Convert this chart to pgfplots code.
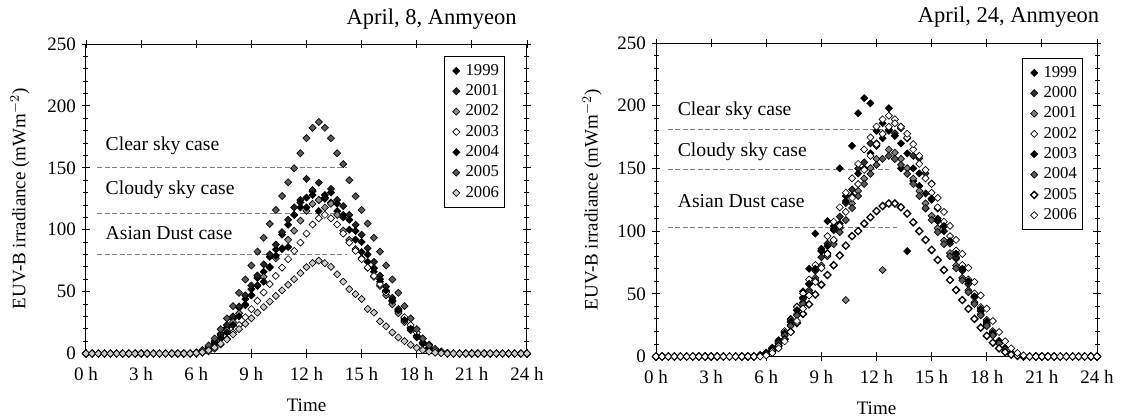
\documentclass[border=0pt]{standalone}
\usepackage{pgfplots}
\pgfplotsset{compat=1.18}
\usepackage{pgfplotstable}
\usepackage{fontspec}
\setmainfont{Liberation Serif}

% April 8: t, 1999, 2001, 2002, 2003, 2004, 2005, 2006
\pgfplotstableread{
t a b c d e f g
0.00 0 0 0 0 0 0 0
0.33 0 0 0 0 0 0 0
0.67 0 0 0 0 0 0 0
1.00 0 0 0 0 0 0 0
1.33 0 0 0 0 0 0 0
1.67 0 0 0 0 0 0 0
2.00 0 0 0 0 0 0 0
2.33 0 0 0 0 0 0 0
2.67 0 0 0 0 0 0 0
3.00 0 0 0 0 0 0 0
3.33 0 0 0 0 0 0 0
3.67 0 0 0 0 0 0 0
4.00 0 0 0 0 0 0 0
4.33 0 0 0 0 0 0 0
4.67 0 0 0 0 0 0 0
5.00 0 0 0 0 0 0 0
5.33 0 0 0 0 0 0 0
5.67 0 0 0 0 0 0 0
6.00 0.6 0.7 0.6 0 0.6 0.9 0.4
6.33 2 2.2 1.9 0.6 1.8 2.8 1.1
6.67 5 5.5 4.3 1.7 4 6.5 2.6
7.00 9 10 8.1 3.9 7.5 12.2 4.9
7.33 15 16 13 7.3 12 19.6 7.9
7.67 21 23 18.8 11.8 17 28.4 11.4
8.00 28 30 25.4 17 23 38.3 15.4
8.33 37 38 32.5 23 30 49 19.7
8.67 44 47 39.7 29.3 39 59.8 24
9.00 52 55 47.1 35.8 47 71.1 28.5
9.33 61 63 54.6 42.6 55 82.3 33
9.67 66 72 62 49.3 58 93.5 37.5
10.00 78 80 69.4 56 70 104.7 42
10.33 84 88 76.9 62.7 79 115.9 46.5
10.67 96 98 84.3 69.4 85 127.2 51
11.00 104 108 91.8 76.2 86 138.4 55.5
11.33 112 118 99.2 82.9 112 149.6 60
11.67 118 124 107.3 89.6 122 161.8 64.9
12.00 126 141 115.3 96.9 118 173.9 69.8
12.33 131 132 120.9 104.2 128 182.3 73.1
12.67 124 138 124 109.2 115 187 75
13.00 128 126 118 112 125 182.3 73
13.33 122 133 121 109.2 130 173.9 70
13.67 115 124 112 104.2 121 161.8 64
14.00 110 119 99.2 96.9 112 153 58
14.33 100 112 91.8 89.6 108 140 52
14.67 92 104 84.3 82.9 99 127 48
15.00 82 96 76.9 76.2 90 116 44
15.33 74 85 69.4 69.4 80 105 36
15.67 66 74 62 62.7 69 93.5 33
16.00 58 63 54.6 56 60 82.3 26
16.33 50 54 47.1 49.3 51 71.1 22
16.67 42 45 39.7 42.6 43 59.8 17
17.00 34 36 32.5 35.8 35 49 13
17.33 27 28 25.4 29.3 27 38.3 10
17.67 20 21 18.8 23 20 28.4 7
18.00 14 14.5 13 17 13.5 19.6 4.5
18.33 8.5 9 8.1 11.8 8 12.2 2.8
18.67 4.5 5 4.3 7.3 4.3 6.5 1.5
19.00 2 2.2 1.9 3.9 1.8 2.8 0.7
19.33 0.6 0.7 0.6 1.7 0.6 0.9 0.3
19.67 0 0 0 0.6 0 0 0
20.00 0 0 0 0 0 0 0
20.33 0 0 0 0 0 0 0
20.67 0 0 0 0 0 0 0
21.00 0 0 0 0 0 0 0
21.33 0 0 0 0 0 0 0
21.67 0 0 0 0 0 0 0
22.00 0 0 0 0 0 0 0
22.33 0 0 0 0 0 0 0
22.67 0 0 0 0 0 0 0
23.00 0 0 0 0 0 0 0
23.33 0 0 0 0 0 0 0
23.67 0 0 0 0 0 0 0
24.00 0 0 0 0 0 0 0
}\leftdata

% April 24: t, 1999, 2000, 2001, 2002, 2003, 2004, 2005, 2006
\pgfplotstableread{
t a b c d e f g h
0.00 0 0 0 0 0 0 0 0
0.33 0 0 0 0 0 0 0 0
0.67 0 0 0 0 0 0 0 0
1.00 0 0 0 0 0 0 0 0
1.33 0 0 0 0 0 0 0 0
1.67 0 0 0 0 0 0 0 0
2.00 0 0 0 0 0 0 0 0
2.33 0 0 0 0 0 0 0 0
2.67 0 0 0 0 0 0 0 0
3.00 0 0 0 0 0 0 0 0
3.33 0 0 0 0 0 0 0 0
3.67 0 0 0 0 0 0 0 0
4.00 0 0 0 0 0 0 0 0
4.33 0 0 0 0 0 0 0 0
4.67 0 0 0 0 0 0 0 0
5.00 0 0 0 0 0 0 0 0
5.33 0 0 0 0 0 0 0 0
5.67 1 0.9 0.8 1 0.9 0.8 0.6 0
6.00 3 2.7 2.5 2.9 2.7 2.4 2 0.9
6.33 7 6.3 5.8 6.7 6.5 5.6 4.6 2.8
6.67 13 11.7 10.7 12.5 12 10.4 8.5 6.5
7.00 20 18.9 17.3 20.2 19 16.8 13.7 12.1
7.33 30 27.4 25.1 29.2 28 24.3 19.8 19.5
7.67 40 36.9 33.8 39.4 37 32.8 26.7 28.3
8.00 52 47.2 43.2 50.3 46 41.9 34 38.1
8.33 70 57.6 52.8 61.4 58 51.2 41.6 48.7
8.67 98 68.4 62.7 73 70 60.8 49.4 59.5
9.00 86 79.2 72.6 84.5 84 70.4 57.2 70.7
9.33 108 90 82.5 96 88 80 65 81.8
9.67 104 100.8 92.4 107.5 102 89.6 72.8 93
10.00 150 111.6 102.3 119 106 99.2 80.6 104.2
10.33 128 122.4 45 130.6 124 108.8 88.4 115.3
10.67 168 133.2 122.1 142.1 128 118.4 96 126.5
11.00 194 150 132 153.6 146 128 100 137.6
11.33 206 154.8 141.9 165.1 150 137.6 106 148.8
11.67 202 170 150.2 174.7 162 145.6 111 160
12.00 180 168 157.6 183.4 170 152.8 116 169.3
12.33 186 177.3 69 189.1 174 157.6 120 177.6
12.67 198 181 165 192 180 160 122 183.2
13.00 176 178 162.5 189.1 176 157.6 122 186
13.33 150 182 157.6 183.4 170 152.8 119 183.2
13.67 84 174 150.2 174.7 162 145.6 114 177.6
14.00 140 160 141.9 165.1 150 137.6 107 169.3
14.33 136 158 132 153.6 146 128 100 160
14.67 118 146 122.1 142.1 130 118.4 93 148.8
15.00 125 138 112.2 130.6 126 108.8 85 137.6
15.33 110 118 102.3 119 108 99.2 77 126.5
15.67 100 104 92.4 107.5 104 89.6 69 115.3
16.00 92 90 82.5 96 92 80 61 104.2
16.33 78 79.2 72.6 84.5 82 70.4 53 93
16.67 70 68.4 62.7 73 70 60.8 45 81.8
17.00 58 57.6 52.8 61.4 60 51.2 38 70.7
17.33 48 47.2 43.2 50.3 48 41.9 30 59.5
17.67 36 36.9 33.8 39.4 38 32.8 23 48.7
18.00 26 27.4 25.1 29.2 28 24.3 16.5 38.1
18.33 18 18.9 17.3 20.2 19 16.8 11 28.3
18.67 11 11.7 10.7 12.5 12 10.4 6.5 19.5
19.00 6 6.3 5.8 6.7 6.5 5.6 3.5 12.1
19.33 2.5 2.7 2.5 2.9 2.7 2.4 1.5 6.5
19.67 1 0.9 0.8 1 0.9 0.8 0.5 2.8
20.00 0 0 0 0 0 0 0 0.9
20.33 0 0 0 0 0 0 0 0
20.67 0 0 0 0 0 0 0 0
21.00 0 0 0 0 0 0 0 0
21.33 0 0 0 0 0 0 0 0
21.67 0 0 0 0 0 0 0 0
22.00 0 0 0 0 0 0 0 0
22.33 0 0 0 0 0 0 0 0
22.67 0 0 0 0 0 0 0 0
23.00 0 0 0 0 0 0 0 0
23.33 0 0 0 0 0 0 0 0
23.67 0 0 0 0 0 0 0 0
24.00 0 0 0 0 0 0 0 0
}\rightdata

\tikzset{
  ann/.style={anchor=west, font=\fontsize{11.8}{12}\selectfont},
  ttl/.style={anchor=base east, font=\fontsize{13.5}{14}\selectfont},
}

\begin{document}
\begin{tikzpicture}
\pgfplotsset{
  common/.style={
    scale only axis, width=264.6pt,
    xmin=0, xmax=24, ymin=0, ymax=250,
    xtick={0,3,...,24},
    xticklabels={0 h,3 h,6 h,9 h,12 h,15 h,18 h,21 h,24 h},
    ytick={0,50,...,250}, minor y tick num=4,
    /pgf/number format/assume math mode=true,
    tick align=center, major tick length=5pt, minor tick length=3pt,
    every tick/.style={black, line width=0.5pt},
    axis line style={line width=0.6pt},
    tick label style={font=\fontsize{11.4}{12}\selectfont},
    xticklabel style={yshift=-2pt},
    label style={font=\fontsize{11.4}{12}\selectfont},
    xlabel={Time}, ylabel={EUV-B irradiance (mWm$^{-2}$)},
    legend cell align=left,
    legend style={font=\fontsize{10}{10}\selectfont, draw=black, line width=0.6pt,
      row sep=0pt, inner xsep=2pt, inner ysep=2.5pt,
      nodes={inner sep=1.3pt, text height=7.4pt, text depth=2.2pt}},
    legend image code/.code={\path (-4.5pt,0pt) (4pt,0pt);
      \draw[#1] plot coordinates {(0pt,0pt)};},
    clip=false,
  },
  mk/.style={only marks, mark=square*, mark size=1.5pt,
    mark options={rotate=45, draw=black, line width=0.4pt, fill=#1}},
  mkb/.style={only marks, mark=square*, mark size=1.5pt,
    mark options={rotate=45, draw=black, line width=0.8pt, fill=#1}},
  dl/.style={gray, dash pattern=on 3pt off 1.5pt, line width=0.5pt, forget plot},
}
% ---------- left panel ----------
\begin{axis}[common, at={(51.6pt,38.1pt)}, anchor=south west, height=185.7pt,
  xlabel style={at={(axis description cs:0.5,-0.168)}, anchor=center},
  ylabel style={at={(axis description cs:-0.150,0.5)}, anchor=center},
  legend style={at={(0.950,0.961)}, anchor=north east}]
\addplot[dl] coordinates {(0.6,150) (14.2,150)};
\addplot[dl] coordinates {(0.6,113) (13.8,113)};
\addplot[dl] coordinates {(0.6,80) (14.2,80)};
\addplot[mk=black] table[x=t,y=a] {\leftdata};
\addplot[mk=black!85] table[x=t,y=b] {\leftdata};
\addplot[mk=black!45] table[x=t,y=c] {\leftdata};
\addplot[mk=white] table[x=t,y=d] {\leftdata};
\addplot[mk=black] table[x=t,y=e] {\leftdata};
\addplot[mk=black!65] table[x=t,y=f] {\leftdata};
\addplot[mk=black!20] table[x=t,y=g] {\leftdata};
\legend{1999,2001,2002,2003,2004,2005,2006}
\node[ann] at (axis cs:0.75,168) {Clear sky case};
\node[ann] at (axis cs:0.75,132) {Cloudy sky case};
\node[ann] at (axis cs:0.75,97) {Asian Dust case};
\node[ttl] at (axis description cs:0.99,1) [yshift=12pt] {April, 8, Anmyeon};
\end{axis}
% ---------- right panel ----------
\begin{axis}[common, at={(393.6pt,36.3pt)}, anchor=south west, height=188.1pt,
  xlabel style={at={(axis description cs:0.5,-0.166)}, anchor=center},
  ylabel style={at={(axis description cs:-0.145,0.5)}, anchor=center},
  legend style={at={(0.968,0.952)}, anchor=north east}]
\addplot[dl] coordinates {(0.65,181) (12.7,181)};
\addplot[dl] coordinates {(0.65,149) (12.7,149)};
\addplot[dl] coordinates {(0.65,103) (13.1,103)};
\addplot[mk=black] table[x=t,y=a] {\rightdata};
\addplot[mk=black!80] table[x=t,y=b] {\rightdata};
\addplot[mk=black!50] table[x=t,y=c] {\rightdata};
\addplot[mk=white] table[x=t,y=d] {\rightdata};
\addplot[mk=black] table[x=t,y=e] {\rightdata};
\addplot[mk=black!65] table[x=t,y=f] {\rightdata};
\addplot[mkb=white] table[x=t,y=g] {\rightdata};
\addplot[mk=white] table[x=t,y=h] {\rightdata};
\legend{1999,2000,2001,2002,2003,2004,2005,2006}
\node[ann] at (axis cs:0.87,196) {Clear sky case};
\node[ann] at (axis cs:0.87,163) {Cloudy sky case};
\node[ann] at (axis cs:0.87,124) {Asian Dust case};
\node[ttl] at (axis description cs:1.018,1) [yshift=12.6pt] {April, 24, Anmyeon};
\end{axis}
\pgfresetboundingbox
\path[use as bounding box] (0,0) rectangle (675.6pt,250.2pt);
\end{tikzpicture}
\end{document}
